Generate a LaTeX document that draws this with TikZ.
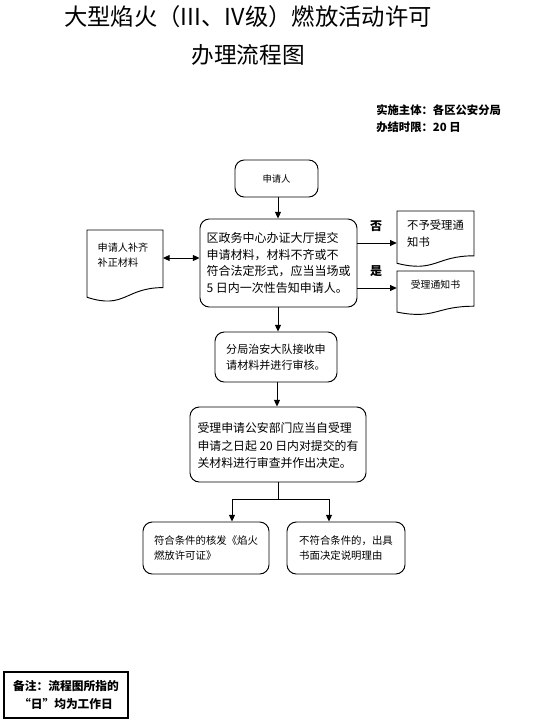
\documentclass[tikz,border=0pt]{standalone}
\usepackage{fontspec}
\setmainfont{Noto Sans CJK SC}
\usetikzlibrary{arrows.meta,fit}
\newcommand\docshape[4]{% x0, top, width, height
  \draw[line width=0.7pt] (#1,#2) -- ({#1+#3},#2) -- ({#1+#3},{#2+0.80*#4})
    .. controls ({#1+0.5*#3},{#2+0.80*#4}) and ({#1+0.5*#3},{#2+1.107*#4}) .. (#1,{#2+0.934*#4}) -- cycle;}
\begin{document}
\begin{tikzpicture}[x=0.75pt,y=-0.75pt,
  rbox/.style={draw,line width=0.7pt,rounded corners=7pt,inner sep=0pt,align=left},
  plain/.style={inner sep=0pt,align=left},
  arr/.style={line width=0.7pt,-{Triangle[length=5pt,width=4.5pt]}},
  darr/.style={line width=0.7pt,{Triangle[length=5pt,width=4.5pt]}-{Triangle[length=5pt,width=4.5pt]}},
  ln/.style={line width=0.7pt}]
\useasboundingbox (0,0) rectangle (541,725);

% titles
\node[font=\fontsize{17.5}{20}\selectfont] (t1) at (248,17) {大型焰火（III、IV级）燃放活动许可};
\node[font=\fontsize{17}{20}\selectfont] (t2) at (248,55) {办理流程图};
\node[plain,anchor=west,font=\fontsize{8.5}{12}\selectfont\bfseries] (org) at (376,110) {实施主体：各区公安分局};
\node[plain,anchor=west,font=\fontsize{8.5}{12}\selectfont\bfseries] (lim) at (376,127) {办结时限：20 日};

% boxes
\node[rbox,fit={(235,160) (318,197)},font=\fontsize{7}{10}\selectfont] (app) {};
\node[plain,font=\fontsize{7}{10}\selectfont] at (app.center) {申请人};

\node[rbox,fit={(200,219) (357,307)}] (main) {};
\node[plain,font=\fontsize{9}{12.4}\selectfont] at (main.center) {区政务中心办证大厅提交\\申请材料，材料不齐或不\\符合法定形式，应当当场或\\5 日内一次性告知申请人。};

\node[rbox,fit={(215,332) (337,382)}] (review) {};
\node[plain,font=\fontsize{8.3}{12}\selectfont] at (review.center) {分局治安大队接收申\\请材料并进行审核。};

\node[rbox,fit={(190,407) (366,482)}] (decide) {};
\node[plain,font=\fontsize{8.9}{13}\selectfont] at ([yshift=-0.75pt]decide.center) {受理申请公安部门应当自受理\\申请之日起 20 日内对提交的有\\关材料进行审查并作出决定。};

\node[rbox,fit={(143,522) (269,574)}] (ok) {};
\node[plain,font=\fontsize{7.8}{11.5}\selectfont] at (ok.center) {符合条件的核发《焰火\\燃放许可证》};

\node[rbox,fit={(287,522) (405,574)}] (nok) {};
\node[plain,font=\fontsize{7.8}{11.5}\selectfont] at (nok.center) {不符合条件的，出具\\书面决定说明理由};

% document shapes
\docshape{87}{230}{76}{72}
\node[plain,fit={(87,230) (163,280)}] (supp) {};
\node[plain,font=\fontsize{7.6}{11.5}\selectfont] at ([xshift=-1.5pt]supp.center) {申请人补齐\\补正材料};

\docshape{397}{211}{77}{56}
\node[plain,fit={(397,211) (474,256)}] (reject) {};
\node[plain,font=\fontsize{8.5}{12.5}\selectfont] at ([yshift=0pt]reject.center) {不予受理通\\知书};

\docshape{397}{271}{77}{44}
\node[plain,fit={(397,271) (474,298)}] (accept) {};
\node[plain,font=\fontsize{7.4}{11}\selectfont] at (accept.center) {受理通知书};

% labels
\node[plain,font=\fontsize{9}{12}\selectfont\bfseries] (no) at (376,226) {否};
\node[plain,font=\fontsize{9}{12}\selectfont\bfseries] (yes) at (376,271) {是};

% note
\node[draw,line width=0.8pt,inner sep=0pt,fit={(4,672) (128,718)}] (note) {};
\node[plain,align=center,font=\fontsize{8.8}{12.8}\selectfont\bfseries] at (note.center) {备注：流程图所指的\\“日”均为工作日};

% connectors
\draw[arr] (app.south -| 278,0) -- (main.north -| 278,0);
\coordinate (m1) at (278,307);
\draw[arr] (m1) -- (m1 |- review.north);
\coordinate (r1) at (277,382);
\draw[arr] (r1) -- (r1 |- decide.north);
\coordinate (d1) at (278,482);
\coordinate (sp) at (278,499);
\draw[ln] (d1) -- (sp);
\coordinate (spl) at (232,499);
\coordinate (spr) at (329,499);
\draw[ln] (spl) -- (spr);
\draw[arr] (spl) -- (spl |- ok.north);
\draw[arr] (spr) -- (spr |- nok.north);
\coordinate (e1) at (357,243);
\draw[arr] (e1) -- (e1 -| reject.west);
\coordinate (e2) at (357,288);
\draw[arr] (e2) -- (e2 -| accept.west);
\coordinate (w1) at (163,258);
\draw[darr] (w1) -- (w1 -| main.west);
\end{tikzpicture}
\end{document}
